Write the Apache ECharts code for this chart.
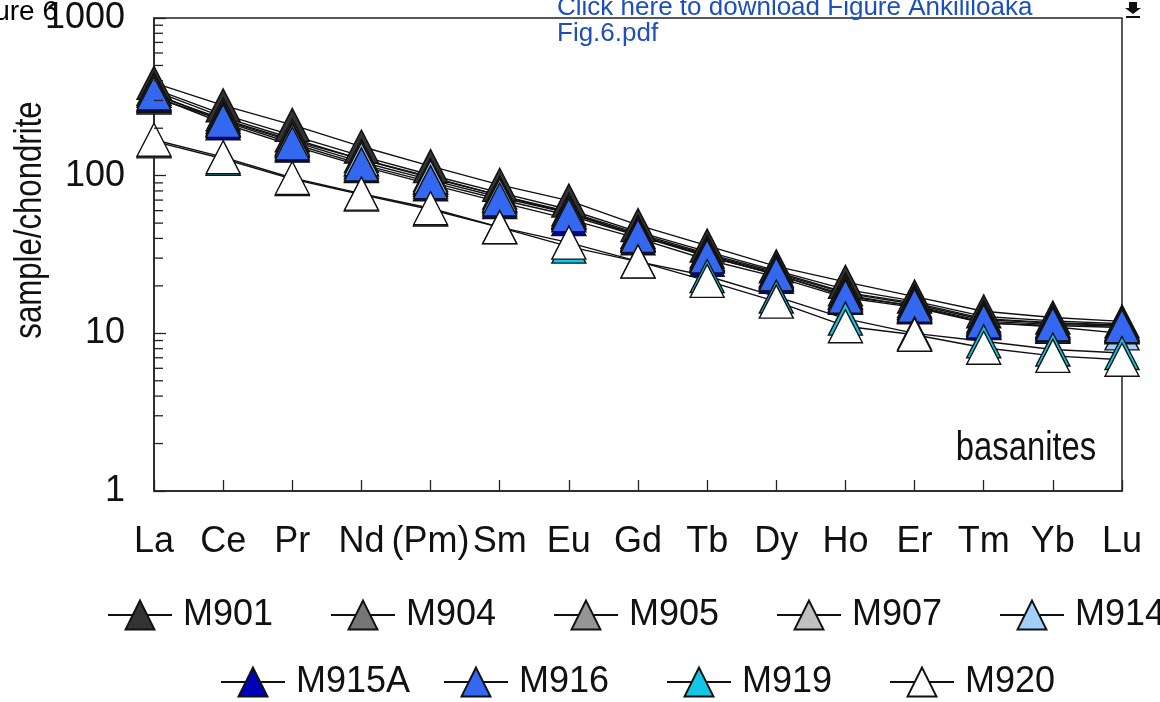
<!DOCTYPE html>
<html>
<head>
<meta charset="utf-8">
<script src="https://cdn.jsdelivr.net/npm/echarts@6/dist/echarts.min.js"></script>
<style>
  html, body { margin: 0; padding: 0; background: #ffffff; }
  #chart { width: 1160px; height: 702px; }
</style>
</head>
<body>
<div id="chart"></div>
<script>
// Rare earth elements along the x axis (Pm shown in brackets)
const elements = ['La', 'Ce', 'Pr', 'Nd', '(Pm)', 'Sm', 'Eu', 'Gd', 'Tb', 'Dy', 'Ho', 'Er', 'Tm', 'Yb', 'Lu'];

// Chondrite-normalised REE concentrations for each basanite sample
const M901  = [388, 279, 210, 153, 115, 87.5, 69.5, 48.6, 36.0, 26.6, 21.2, 17.1, 13.8, 12.6, 11.9];
const M904  = [355, 245, 180, 133, 101, 78, 61, 44, 33, 25, 19, 16, 12.8, 12.0, 11.5];
const M905  = [345, 235, 172, 127, 97, 75, 59, 43, 32, 24.5, 18.2, 15.6, 12.4, 11.7, 11.3];
const M907  = [313, 225, 165, 122, 94, 73, 58, 42, 31.5, 24, 18, 15.3, 12.2, 11.6, 11.2];
const M914  = [325, 228, 168, 127, 98, 75, 58, 42, 31, 23.5, 17.5, 14.8, 11.7, 11.0, 10.0];
const M915A = [320, 215, 155, 115, 88, 68, 53, 40, 29.3, 22.8, 16.8, 14.6, 11.6, 11.2, 10.9];
const M916  = [332, 222, 160, 118, 91, 70.6, 56.1, 41.5, 30.7, 23.7, 17.1, 15.0, 11.9, 11.4, 11.1];
const M919  = [165, 128, 95, 76, 61, 47, 35.5, 28.5, 23.1, 17.1, 12.4, 10.0, 8.9, 7.9, 7.5];
const M920  = [169, 131, 96.7, 76.9, 62.1, 47.2, 37.6, 28.6, 21.5, 15.9, 11.1, 9.8, 8.1, 7.2, 6.8];

// Log-axis minor tick values (2..9 of each decade)
const minorTickValues = [2, 3, 4, 5, 6, 7, 8, 9, 20, 30, 40, 50, 60, 70, 80, 90, 200, 300, 400, 500, 600, 700, 800, 900];

const samples = [
  { name: 'M901',  values: M901,  fill: '#333333' },
  { name: 'M904',  values: M904,  fill: '#767676' },
  { name: 'M905',  values: M905,  fill: '#959595' },
  { name: 'M907',  values: M907,  fill: '#c0c0c0' },
  { name: 'M914',  values: M914,  fill: '#a2cffa' },
  { name: 'M915A', values: M915A, fill: '#0000b8' },
  { name: 'M916',  values: M916,  fill: '#3468f0' },
  { name: 'M919',  values: M919,  fill: '#12c6e6' },
  { name: 'M920',  values: M920,  fill: '#ffffff' }
];

const SANS = '"Liberation Sans", Arial, sans-serif';
const INK = '#111111';
const AXIS = '#222222';
const MARK = [34, 33];
const CONDENSE = 0.82;

const chart = echarts.init(document.getElementById('chart'), null, { renderer: 'canvas' });

// Connecting lines sit underneath every marker
const lineSeries = samples.map(s => ({
  name: s.name,
  type: 'line',
  data: s.values,
  z: 2,
  showSymbol: false,
  symbol: 'triangle',
  symbolSize: MARK,
  color: s.fill,
  lineStyle: { color: INK, width: 1.4 },
  itemStyle: { color: s.fill, borderColor: INK, borderWidth: 1.2 },
  emphasis: { disabled: true },
  silent: true,
  animation: false
}));

const markerSeries = samples.map(s => ({
  name: s.name,
  type: 'scatter',
  data: s.values,
  z: 3,
  symbol: 'triangle',
  symbolSize: MARK,
  itemStyle: { color: s.fill, borderColor: INK, borderWidth: 1.4, opacity: 1 },
  emphasis: { disabled: true },
  silent: true,
  animation: false
}));

const minorTicks = {
  type: 'custom',
  data: minorTickValues.map(v => [0, v]),
  z: 4,
  silent: true,
  animation: false,
  renderItem: (params, api) => {
    const p = api.coord([0, api.value(1)]);
    return {
      type: 'line',
      shape: { x1: p[0], y1: p[1], x2: p[0] + 9, y2: p[1] },
      style: { stroke: AXIS, lineWidth: 1.3 }
    };
  }
};

// Two legend rows on a fixed 223px pitch
const legendRows = [
  { names: ['M901', 'M904', 'M905', 'M907', 'M914'], left: 107, top: 597 },
  { names: ['M915A', 'M916', 'M919', 'M920'], left: 220, top: 664 }
];
const legends = [];
legendRows.forEach(row => {
  row.names.forEach((n, i) => {
    legends.push({
      data: [n],
      left: row.left + 223 * i,
      top: row.top,
      orient: 'horizontal',
      itemWidth: 64,
      itemHeight: 36,
      itemGap: 0,
      padding: 0,
      selectedMode: false,
      textStyle: { fontFamily: SANS, fontSize: 36, color: INK, padding: [0, 0, 0, 6] }
    });
  });
});

const option = {
  backgroundColor: '#ffffff',
  animation: false,
  grid: {
    left: 154, top: 9, width: 968, height: 482,
    show: true, borderColor: AXIS, borderWidth: 1.5, backgroundColor: 'transparent'
  },
  xAxis: {
    type: 'category',
    data: elements,
    boundaryGap: false,
    axisLine: { lineStyle: { color: AXIS, width: 1.5 } },
    axisTick: { inside: true, length: 11, lineStyle: { color: AXIS, width: 1.3 } },
    axisLabel: { interval: 0, margin: 33, fontFamily: SANS, fontSize: 36, color: INK },
    splitLine: { show: false }
  },
  yAxis: {
    type: 'log',
    logBase: 10,
    min: 1,
    max: 1000,
    axisLine: { show: true, lineStyle: { color: AXIS, width: 1.5 } },
    axisTick: { show: true, inside: true, length: 12, lineStyle: { color: AXIS, width: 1.3 } },
    axisLabel: { margin: 29, fontFamily: SANS, fontSize: 36, color: INK, formatter: v => String(Math.round(v)) },
    splitLine: { show: false },
    minorTick: { show: false }
  },
  legend: legends,
  tooltip: { show: false },
  series: [...lineSeries, ...markerSeries, minorTicks],
  graphic: [
    {
      type: 'text', x: 31, y: 220, rotation: Math.PI / 2, scaleX: CONDENSE, z: 10,
      style: { text: 'sample/chondrite', font: '38px ' + SANS, fill: INK, align: 'center', verticalAlign: 'middle' }
    },
    {
      type: 'text', x: 1026, y: 449, scaleX: CONDENSE, z: 10,
      style: { text: 'basanites', font: '40px ' + SANS, fill: INK, align: 'center', verticalAlign: 'middle' }
    },
    {
      type: 'text', x: 58, y: 12, z: 10,
      style: { text: 'Figure 6', font: '28px ' + SANS, fill: '#000000', align: 'right', verticalAlign: 'middle' }
    },
    {
      type: 'text', x: 557, y: 8, z: 10,
      style: { text: 'Click here to download Figure Ankililoaka', font: '26px ' + SANS, fill: '#1c4fbd', align: 'left', verticalAlign: 'middle' }
    },
    {
      type: 'text', x: 557, y: 34, z: 10,
      style: { text: 'Fig.6.pdf', font: '26px ' + SANS, fill: '#1c4fbd', align: 'left', verticalAlign: 'middle' }
    },
    {
      type: 'polygon', z: 10,
      shape: { points: [[1129, 2], [1137, 2], [1137, 8], [1141, 8], [1133, 14], [1125, 8], [1129, 8]] },
      style: { fill: '#111111' }
    },
    {
      type: 'rect', z: 10,
      shape: { x: 1126, y: 16, width: 14, height: 2 },
      style: { fill: '#111111' }
    }
  ]
};

chart.setOption(option);
</script>
</body>
</html>
